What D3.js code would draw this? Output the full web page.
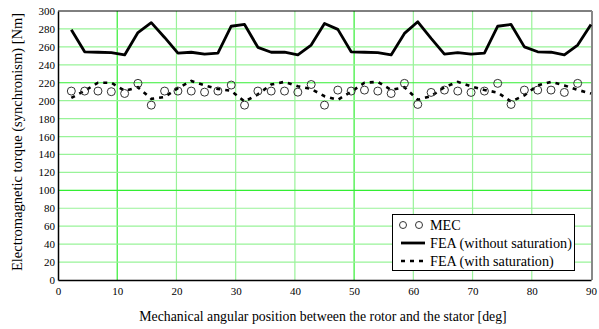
<!DOCTYPE html>
<html><head><meta charset="utf-8">
<script src="https://cdn.jsdelivr.net/npm/d3@7"></script>
<style>body{margin:0;background:#fff}svg{display:block}</style>
</head><body><svg id="c" width="599" height="329"></svg>
<script>
const angles = [2.25,4.5,6.75,9,11.25,13.5,15.75,18,20.25,22.5,24.75,27,29.25,31.5,33.75,36,38.25,40.5,42.75,45,47.25,49.5,51.75,54,56.25,58.5,60.75,63,65.25,67.5,69.75,72,74.25,76.5,78.75,81,83.25,85.5,87.75,90];
const feaNoSat = [279,254.5,254,253.5,251,276,287,270.5,253,254,252,253,283,285,259.5,254,254,251,262,286,279.5,254.5,254,253.5,251,275,288,269.5,252,253.5,252,253,283,285,260,254.5,254,251,262,285];
const feaSat = [203,211,220,220,211,215,202,204,214,222,217,213,211,199,207,218,221,216,213,205,201,210,220,221,212,215,201,205,215,221,216,212,209,199,206,217,221,217,212,208];
const mec = [210.7,210.7,210.7,210,208,219.3,195,210.7,210.7,210.7,209.5,210.7,217.4,195,210.7,210.7,210.7,209.5,218,195,211.8,210.7,211.8,210.7,208,219.3,195.8,209.2,211.8,210.7,209.2,210.7,219.3,195.8,211.8,211.8,211.8,209.2,219.3];
const xTicks = [0,10,20,30,40,50,60,70,80,90];
const yTicks = [0,20,40,60,80,100,120,140,160,180,200,220,240,260,280,300];
const legendLabels = ["MEC","FEA (without saturation)","FEA (with saturation)"];
const xTitle = "Mechanical angular position between the rotor and the stator  [deg]";
const yTitle = "Electromagnetic torque (synchronism)  [Nm]";

const svg = d3.select("#c");
const L=58, R=591, T=11, B=280;
const x = d3.scaleLinear().domain([0,90]).range([L,R]);
const y = d3.scaleLinear().domain([0,300]).range([B,T]);
const font = "'Liberation Serif','Times New Roman',serif";

// grid
const g = svg.append("g");
g.selectAll("line.gx").data(xTicks.filter(d=>d>0&&d<90)).enter().append("line")
  .attr("x1",d=>x(d)).attr("x2",d=>x(d)).attr("y1",T).attr("y2",B)
  .attr("stroke",d=>(d===10||d===50)?"#33ee33":"#99f399").attr("stroke-width",1.2);
g.selectAll("line.gy").data(yTicks.filter(d=>d>0&&d<300)).enter().append("line")
  .attr("x1",L).attr("x2",R).attr("y1",d=>y(d)).attr("y2",d=>y(d))
  .attr("stroke",d=>(d===100||d===220)?"#33ee33":"#99f399").attr("stroke-width",1.2);

// frame
svg.append("line").attr("x1",L).attr("x2",R+1).attr("y1",T).attr("y2",T).attr("stroke","#000").attr("stroke-width",1);
svg.append("line").attr("x1",R+1).attr("x2",R+1).attr("y1",T).attr("y2",B).attr("stroke","#888").attr("stroke-width",2);

// axes
const xa = svg.append("g").attr("transform",`translate(0,${B})`)
  .call(d3.axisBottom(x).tickValues(xTicks).tickSize(0).tickPadding(7));
const ya = svg.append("g").attr("transform",`translate(${L},0)`)
  .call(d3.axisLeft(y).tickValues(yTicks).tickSize(0).tickPadding(3));
[xa,ya].forEach(a=>{
  a.attr("font-family",font);
  a.select(".domain").attr("stroke","#000").attr("stroke-width",1.5);
  a.selectAll("text").attr("font-family",font).attr("font-size",11).attr("fill","#000");
});

// series
const line = d3.line().x((d,i)=>x(angles[i])).y(d=>y(d));
svg.append("path").datum(feaNoSat).attr("d",line).attr("fill","none")
  .attr("stroke","#000").attr("stroke-width",2.8).attr("stroke-linejoin","round");
svg.append("path").datum(feaSat).attr("d",line).attr("fill","none")
  .attr("stroke","#000").attr("stroke-width",2.6).attr("stroke-dasharray","4,5");
svg.append("g").selectAll("circle").data(mec).enter().append("circle")
  .attr("cx",(d,i)=>x(angles[i])).attr("cy",d=>y(d)).attr("r",4)
  .attr("fill","none").attr("stroke","#333").attr("stroke-width",1);

// titles
svg.append("text").attr("x",323).attr("y",321).attr("text-anchor","middle")
  .attr("font-family",font).attr("font-size",13.8).text(xTitle);
svg.append("text").attr("transform",`translate(22,142) rotate(-90)`).attr("text-anchor","middle")
  .attr("font-family",font).attr("font-size",14.5).text(yTitle);

// legend
const lg = svg.append("g");
lg.append("rect").attr("x",392.5).attr("y",214.5).attr("width",182).attr("height",56)
  .attr("fill","#fff").attr("stroke","#000").attr("stroke-width",1);
const ly = [225, 243, 261];
lg.append("circle").attr("cx",403).attr("cy",ly[0]).attr("r",3.5).attr("fill","none").attr("stroke","#333");
lg.append("circle").attr("cx",419).attr("cy",ly[0]).attr("r",3.5).attr("fill","none").attr("stroke","#333");
lg.append("line").attr("x1",401).attr("x2",425).attr("y1",ly[1]).attr("y2",ly[1]).attr("stroke","#000").attr("stroke-width",2.8);
lg.append("line").attr("x1",401).attr("x2",426).attr("y1",ly[2]).attr("y2",ly[2]).attr("stroke","#000").attr("stroke-width",2.6).attr("stroke-dasharray","4,5");
lg.selectAll("text").data(legendLabels).enter().append("text")
  .attr("x",430).attr("y",(d,i)=>ly[i]+4.5).attr("font-family",font).attr("font-size",14.2).text(d=>d);
</script></body></html>
